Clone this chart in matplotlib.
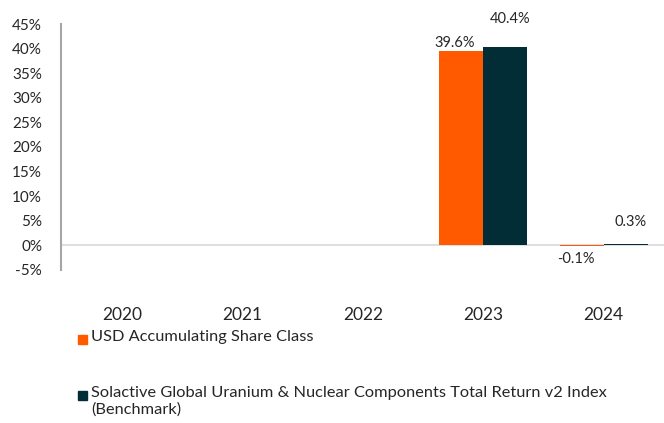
import matplotlib.pyplot as plt
from matplotlib.patches import Rectangle
import numpy as np

plt.rcParams['font.family'] = ['Lato', 'DejaVu Sans']

years = ['2020', '2021', '2022', '2023', '2024']
fund = [np.nan, np.nan, np.nan, 39.6, -0.1]
bench = [np.nan, np.nan, np.nan, 40.4, 0.3]
fund_name = 'USD Accumulating Share Class'
bench_name = 'Solactive Global Uranium & Nuclear Components Total Return v2 Index\n(Benchmark)'

ORANGE = '#FF5A00'
DARK = '#022D36'
TXT = '#262626'

fig = plt.figure(figsize=(6.64, 4.23), dpi=100)
ax = fig.add_axes([0.0926, 0.362, 0.9074, 0.581])

x = np.arange(len(years))
w = 0.364
b1 = ax.bar(x - w / 2, fund, w, color=ORANGE)
b2 = ax.bar(x + w / 2, bench, w, color=DARK)

# data labels (offsets in px roughly matching the original)
fund_off = [0, 0, 0, 1, -6]
bench_off = [0, 0, 0, 20, 14]
for bars, vals, offs, dx in [(b1, fund, fund_off, -6), (b2, bench, bench_off, 5)]:
    for rect, v, o in zip(bars, vals, offs):
        if np.isnan(v):
            continue
        va = 'bottom' if o >= 0 else 'top'
        ax.annotate(f'{v:.1f}%', (rect.get_x() + rect.get_width() / 2, max(v, 0) if o >= 0 else 0),
                    xytext=(dx * 0.75, o * 0.75), textcoords='offset points',
                    ha='center', va=va, fontsize=10.5, color=TXT)

ax.axhline(0, color='#D9D9D9', lw=1.2, zorder=0)
ax.set_ylim(-5, 45)
ax.set_xlim(-0.5, 4.5)
ax.set_yticks(np.arange(-5, 46, 5))
ax.set_yticklabels([f'{t}%' for t in range(-5, 46, 5)])
ax.set_xticks(x)
ax.set_xticklabels(years)
ax.tick_params(axis='y', length=0, pad=14, labelsize=11, labelcolor=TXT)
ax.tick_params(axis='x', length=0, pad=27, labelsize=12.5, labelcolor=TXT)
for s in ['top', 'right', 'bottom']:
    ax.spines[s].set_visible(False)
ax.spines['left'].set_color('#A6A6A6')
ax.spines['left'].set_linewidth(1.5)

# legend drawn by hand to keep Excel-like spacing
H, W = 423, 664
for y_px, col, name in [(339, ORANGE, fund_name), (395, DARK, bench_name)]:
    fig.patches.append(Rectangle((78 / W, 1 - (y_px + 5) / H), 9 / W, 9 / H,
                                 transform=fig.transFigure, color=col))
    fig.text(91 / W, 1 - (y_px - 9) / H, name, ha='left', va='top',
             fontsize=11.8, color=TXT, linespacing=1.2)

fig.savefig('out.png', dpi=100)
